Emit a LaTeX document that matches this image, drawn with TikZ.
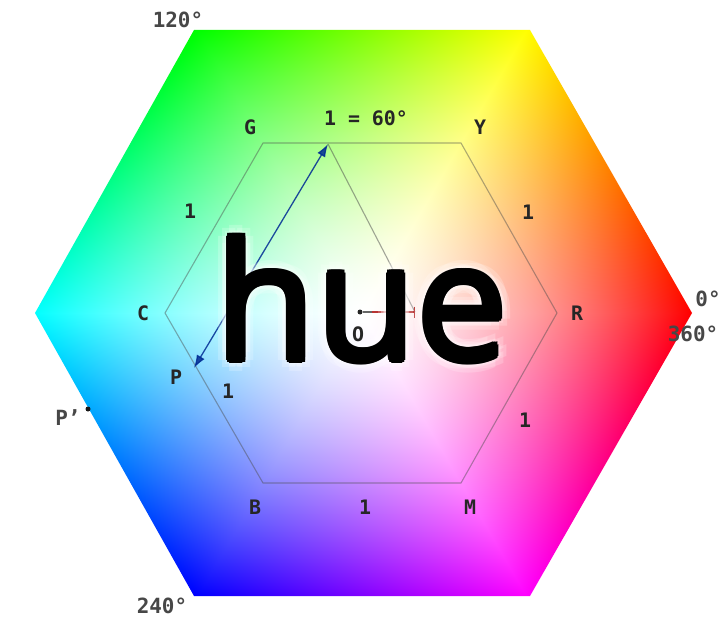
\documentclass[tikz,border=0pt]{standalone}
\usepackage{fontspec}
\usetikzlibrary{arrows.meta}
\newfontfamily\lblfont{DejaVu Sans Mono}
\newfontfamily\huefont{Open Sans}
\pgfdeclarefunctionalshading{hexhue}{\pgfpoint{-345bp}{-295bp}}{\pgfpoint{345bp}{295bp}}{}{
566.0 div exch 985.5 div
2 copy sub
3 1 roll
2 copy add neg
exch 2 mul
3 -1 roll pop
3 1 roll
3 copy
2 copy lt {exch} if pop
2 copy lt {exch} if pop
3 index 3 index 3 index
2 copy gt {exch} if pop
2 copy gt {exch} if pop
1 index exch sub
0.5 exp
5 2 roll
4 index exch sub 3 index mul 1 exch sub
3 1 roll
4 index exch sub 3 index mul 1 exch sub
3 1 roll
4 index exch sub 3 index mul 1 exch sub
3 1 roll
5 -2 roll
pop pop
}
\begin{document}
\begin{tikzpicture}[x=1bp,y=-1bp,
  lbl/.style={font=\lblfont\bfseries\fontsize{20}{24}\selectfont, text=black!85, inner sep=0},
  deg/.style={font=\lblfont\bfseries\fontsize{21}{24}\selectfont, text=black!72, inner sep=0},
  huetext/.style={font=\huefont\fontsize{164}{180}\selectfont, inner sep=0, anchor=base},
  innerhex/.style={draw=black!70, opacity=0.45, line width=1.1bp},
  vec/.style={draw=blue!55!teal!75!black, line width=1.3bp, opacity=0.85}]
\fill[white] (0,0) rectangle (726,627);
\useasboundingbox (0,0) rectangle (726,627);
% outer hexagon
\coordinate (HTL) at (194,30);
\coordinate (HTR) at (530,30);
\coordinate (HR) at (692,313);
\coordinate (HBR) at (530,596);
\coordinate (HBL) at (194,596);
\coordinate (HL) at (35,313);
\begin{scope}
\clip (HTL) -- (HTR) -- (HR) -- (HBR) -- (HBL) -- (HL) -- cycle;
\node[inner sep=0, outer sep=0] (shade) at (362,313) {\pgfuseshading{hexhue}};
\end{scope}
% inner hexagon
\coordinate (G) at (263,143);
\coordinate (Y) at (461,143);
\coordinate (R) at (557,313);
\coordinate (M) at (461,483);
\coordinate (B) at (263,483);
\coordinate (C) at (165,313);
\path[innerhex] (G) -- (Y) -- (R) -- (M) -- (B) -- (C) -- cycle;
% vectors
\coordinate (apex) at (328,144);
\coordinate (Pt) at (194,368);
\coordinate (bar) at (415,312);
\coordinate (Ost) at (372,312);
\path[draw=black!70, opacity=0.5, line width=1.1bp] (apex) -- (bar);
\path[vec, {Latex[length=13bp,width=9bp]}-{Latex[length=13bp,width=9bp]}] (Pt) -- (apex);
\node[circle, fill=black!85, inner sep=0, minimum size=5bp] (O) at (360,312) {};
\draw[black!60, line width=1.1bp] (O) -- (Ost);
\draw[red!65!black!80, line width=1.3bp, -{Bar[width=11bp]}] (Ost) -- (bar);
\node[circle, fill=black!90, inner sep=0, minimum size=5bp] (Pp) at (88,409) {};
% hue text with glow
\foreach \a in {0,45,...,315}{
  \foreach \r in {6,11}{
    \path (362,360) ++(\a:\r) node[huetext, text=white, opacity=0.2] {hue};
  }
}
\foreach \a in {0,45,...,315}{
  \path (362,360) ++(\a:3) node[huetext, text=black] {hue};
}
\node[huetext, text=black] (hue) at (362,360) {hue};
% labels
\node[lbl] (lG) at (250,127) {G};
\node[lbl] (lY) at (480,127) {Y};
\node[lbl] (lC) at (143,313) {C};
\node[lbl] (lR) at (577,313) {R};
\node[lbl] (lB) at (255,507) {B};
\node[lbl] (lM) at (470,507) {M};
\node[lbl] (l60) at (366,118) {1 = 60°};
\node[lbl] (e1) at (190,211) {1};
\node[lbl] (e2) at (528,212) {1};
\node[lbl] (e3) at (228,391) {1};
\node[lbl] (e4) at (525,420) {1};
\node[lbl] (e5) at (365,507) {1};
\node[lbl] (lP) at (176,377) {P};
\node[lbl] (lO) at (358,334) {O};
\node[deg] (lPp) at (68,418) {P’};
\node[deg] (d120) at (178,20) {120°};
\node[deg] (d240) at (162,606) {240°};
\node[deg] (d0) at (708,299) {0°};
\node[deg] (d360) at (693,334) {360°};
\end{tikzpicture}
\end{document}
